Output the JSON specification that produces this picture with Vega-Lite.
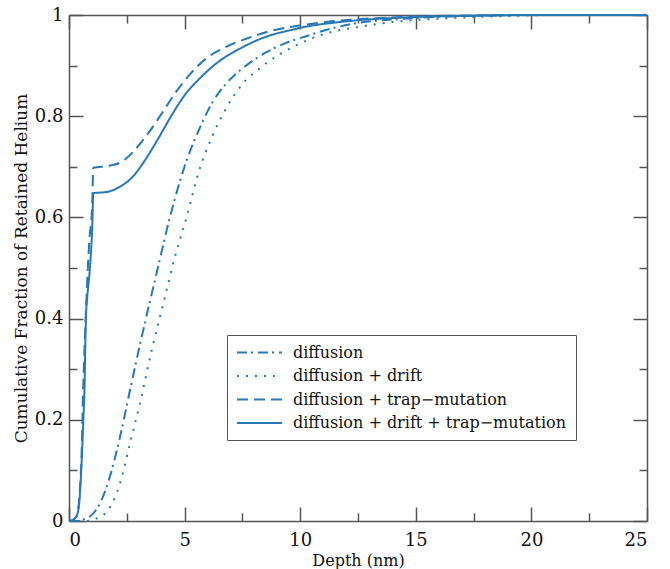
{
  "$schema": "https://vega.github.io/schema/vega-lite/v6.json",
  "width": 578,
  "height": 506,
  "autosize": {"type": "none"},
  "padding": {"left": 69, "top": 15, "right": 23, "bottom": 48},
  "background": "white",
  "config": {
    "view": {"stroke": null},
    "axis": {
      "grid": false,
      "domainColor": "#555555",
      "domainWidth": 1.5,
      "tickColor": "#555555",
      "tickWidth": 1.5,
      "labelFont": "DejaVu Serif",
      "labelFontSize": 18,
      "labelColor": "#111111",
      "titleFont": "DejaVu Serif",
      "titleFontSize": 17,
      "titleFontWeight": "normal",
      "titleColor": "#111111"
    }
  },
  "data": {
    "values": [
      {"series": "diffusion", "depth": 0, "fraction": 0},
      {"series": "diffusion", "depth": 0.3, "fraction": 0},
      {"series": "diffusion", "depth": 0.6, "fraction": 0.003},
      {"series": "diffusion", "depth": 0.9, "fraction": 0.009},
      {"series": "diffusion", "depth": 1.05, "fraction": 0.015},
      {"series": "diffusion", "depth": 1.34, "fraction": 0.035},
      {"series": "diffusion", "depth": 1.77, "fraction": 0.088},
      {"series": "diffusion", "depth": 2.21, "fraction": 0.167},
      {"series": "diffusion", "depth": 2.64, "fraction": 0.259},
      {"series": "diffusion", "depth": 3.21, "fraction": 0.377},
      {"series": "diffusion", "depth": 3.79, "fraction": 0.49},
      {"series": "diffusion", "depth": 4.37, "fraction": 0.601},
      {"series": "diffusion", "depth": 5.06, "fraction": 0.709},
      {"series": "diffusion", "depth": 5.64, "fraction": 0.775},
      {"series": "diffusion", "depth": 6.21, "fraction": 0.828},
      {"series": "diffusion", "depth": 6.79, "fraction": 0.864},
      {"series": "diffusion", "depth": 7.66, "fraction": 0.9},
      {"series": "diffusion", "depth": 8.52, "fraction": 0.926},
      {"series": "diffusion", "depth": 9.39, "fraction": 0.945},
      {"series": "diffusion", "depth": 10.25, "fraction": 0.958},
      {"series": "diffusion", "depth": 11.5, "fraction": 0.975},
      {"series": "diffusion", "depth": 12.6, "fraction": 0.985},
      {"series": "diffusion", "depth": 14, "fraction": 0.991},
      {"series": "diffusion", "depth": 15, "fraction": 0.994},
      {"series": "diffusion", "depth": 17, "fraction": 0.998},
      {"series": "diffusion", "depth": 20, "fraction": 1},
      {"series": "diffusion", "depth": 25, "fraction": 1},

      {"series": "diffusion + drift", "depth": 0, "fraction": 0},
      {"series": "diffusion + drift", "depth": 0.8, "fraction": 0},
      {"series": "diffusion + drift", "depth": 1.0, "fraction": 0.002},
      {"series": "diffusion + drift", "depth": 1.34, "fraction": 0.008},
      {"series": "diffusion + drift", "depth": 1.7, "fraction": 0.022},
      {"series": "diffusion + drift", "depth": 2.21, "fraction": 0.075},
      {"series": "diffusion + drift", "depth": 2.64, "fraction": 0.154},
      {"series": "diffusion + drift", "depth": 3.07, "fraction": 0.233},
      {"series": "diffusion + drift", "depth": 3.58, "fraction": 0.338},
      {"series": "diffusion + drift", "depth": 4.08, "fraction": 0.43},
      {"series": "diffusion + drift", "depth": 4.58, "fraction": 0.522},
      {"series": "diffusion + drift", "depth": 5.09, "fraction": 0.601},
      {"series": "diffusion + drift", "depth": 5.6, "fraction": 0.688},
      {"series": "diffusion + drift", "depth": 6.21, "fraction": 0.762},
      {"series": "diffusion + drift", "depth": 6.79, "fraction": 0.815},
      {"series": "diffusion + drift", "depth": 7.51, "fraction": 0.864},
      {"series": "diffusion + drift", "depth": 8.23, "fraction": 0.894},
      {"series": "diffusion + drift", "depth": 9.1, "fraction": 0.922},
      {"series": "diffusion + drift", "depth": 9.96, "fraction": 0.943},
      {"series": "diffusion + drift", "depth": 11, "fraction": 0.962},
      {"series": "diffusion + drift", "depth": 12.6, "fraction": 0.977},
      {"series": "diffusion + drift", "depth": 14, "fraction": 0.986},
      {"series": "diffusion + drift", "depth": 15, "fraction": 0.99},
      {"series": "diffusion + drift", "depth": 17, "fraction": 0.995},
      {"series": "diffusion + drift", "depth": 19, "fraction": 0.998},
      {"series": "diffusion + drift", "depth": 21, "fraction": 1},
      {"series": "diffusion + drift", "depth": 25, "fraction": 1},

      {"series": "diffusion + trap−mutation", "depth": 0, "fraction": 0},
      {"series": "diffusion + trap−mutation", "depth": 0.2, "fraction": 0.003},
      {"series": "diffusion + trap−mutation", "depth": 0.35, "fraction": 0.012},
      {"series": "diffusion + trap−mutation", "depth": 0.45, "fraction": 0.05},
      {"series": "diffusion + trap−mutation", "depth": 0.55, "fraction": 0.14},
      {"series": "diffusion + trap−mutation", "depth": 0.6, "fraction": 0.24},
      {"series": "diffusion + trap−mutation", "depth": 0.64, "fraction": 0.3},
      {"series": "diffusion + trap−mutation", "depth": 0.74, "fraction": 0.423},
      {"series": "diffusion + trap−mutation", "depth": 0.88, "fraction": 0.555},
      {"series": "diffusion + trap−mutation", "depth": 1.0, "fraction": 0.62},
      {"series": "diffusion + trap−mutation", "depth": 1.05, "fraction": 0.698},
      {"series": "diffusion + trap−mutation", "depth": 1.74, "fraction": 0.702},
      {"series": "diffusion + trap−mutation", "depth": 2.32, "fraction": 0.711},
      {"series": "diffusion + trap−mutation", "depth": 2.9, "fraction": 0.736},
      {"series": "diffusion + trap−mutation", "depth": 3.47, "fraction": 0.769},
      {"series": "diffusion + trap−mutation", "depth": 4.05, "fraction": 0.808},
      {"series": "diffusion + trap−mutation", "depth": 4.63, "fraction": 0.848},
      {"series": "diffusion + trap−mutation", "depth": 5.2, "fraction": 0.881},
      {"series": "diffusion + trap−mutation", "depth": 5.93, "fraction": 0.914},
      {"series": "diffusion + trap−mutation", "depth": 6.79, "fraction": 0.937},
      {"series": "diffusion + trap−mutation", "depth": 7.66, "fraction": 0.953},
      {"series": "diffusion + trap−mutation", "depth": 8.52, "fraction": 0.966},
      {"series": "diffusion + trap−mutation", "depth": 9.39, "fraction": 0.975},
      {"series": "diffusion + trap−mutation", "depth": 10.25, "fraction": 0.981},
      {"series": "diffusion + trap−mutation", "depth": 11.5, "fraction": 0.988},
      {"series": "diffusion + trap−mutation", "depth": 12.6, "fraction": 0.992},
      {"series": "diffusion + trap−mutation", "depth": 14, "fraction": 0.995},
      {"series": "diffusion + trap−mutation", "depth": 15, "fraction": 0.997},
      {"series": "diffusion + trap−mutation", "depth": 17, "fraction": 0.999},
      {"series": "diffusion + trap−mutation", "depth": 20, "fraction": 1},
      {"series": "diffusion + trap−mutation", "depth": 25, "fraction": 1},

      {"series": "diffusion + drift + trap−mutation", "depth": 0, "fraction": 0},
      {"series": "diffusion + drift + trap−mutation", "depth": 0.2, "fraction": 0.003},
      {"series": "diffusion + drift + trap−mutation", "depth": 0.35, "fraction": 0.012},
      {"series": "diffusion + drift + trap−mutation", "depth": 0.45, "fraction": 0.04},
      {"series": "diffusion + drift + trap−mutation", "depth": 0.55, "fraction": 0.12},
      {"series": "diffusion + drift + trap−mutation", "depth": 0.62, "fraction": 0.2},
      {"series": "diffusion + drift + trap−mutation", "depth": 0.68, "fraction": 0.28},
      {"series": "diffusion + drift + trap−mutation", "depth": 0.71, "fraction": 0.36},
      {"series": "diffusion + drift + trap−mutation", "depth": 0.74, "fraction": 0.41},
      {"series": "diffusion + drift + trap−mutation", "depth": 0.79, "fraction": 0.443},
      {"series": "diffusion + drift + trap−mutation", "depth": 0.91, "fraction": 0.503},
      {"series": "diffusion + drift + trap−mutation", "depth": 1.01, "fraction": 0.588},
      {"series": "diffusion + drift + trap−mutation", "depth": 1.05, "fraction": 0.648},
      {"series": "diffusion + drift + trap−mutation", "depth": 1.6, "fraction": 0.65},
      {"series": "diffusion + drift + trap−mutation", "depth": 2.18, "fraction": 0.66},
      {"series": "diffusion + drift + trap−mutation", "depth": 2.75, "fraction": 0.68},
      {"series": "diffusion + drift + trap−mutation", "depth": 3.33, "fraction": 0.716},
      {"series": "diffusion + drift + trap−mutation", "depth": 3.9, "fraction": 0.759},
      {"series": "diffusion + drift + trap−mutation", "depth": 4.48, "fraction": 0.805},
      {"series": "diffusion + drift + trap−mutation", "depth": 5.06, "fraction": 0.845},
      {"series": "diffusion + drift + trap−mutation", "depth": 5.64, "fraction": 0.874},
      {"series": "diffusion + drift + trap−mutation", "depth": 6.36, "fraction": 0.904},
      {"series": "diffusion + drift + trap−mutation", "depth": 7.37, "fraction": 0.933},
      {"series": "diffusion + drift + trap−mutation", "depth": 8.52, "fraction": 0.957},
      {"series": "diffusion + drift + trap−mutation", "depth": 9.67, "fraction": 0.971},
      {"series": "diffusion + drift + trap−mutation", "depth": 10.25, "fraction": 0.977},
      {"series": "diffusion + drift + trap−mutation", "depth": 11.5, "fraction": 0.985},
      {"series": "diffusion + drift + trap−mutation", "depth": 12.6, "fraction": 0.99},
      {"series": "diffusion + drift + trap−mutation", "depth": 14, "fraction": 0.994},
      {"series": "diffusion + drift + trap−mutation", "depth": 15, "fraction": 0.996},
      {"series": "diffusion + drift + trap−mutation", "depth": 17, "fraction": 0.998},
      {"series": "diffusion + drift + trap−mutation", "depth": 20, "fraction": 1},
      {"series": "diffusion + drift + trap−mutation", "depth": 25, "fraction": 1}
    ]
  },
  "layer": [
    {
      "mark": {"type": "line", "interpolate": "monotone", "strokeWidth": 2, "color": "#2878b8"},
      "encoding": {
        "x": {
          "field": "depth", "type": "quantitative",
          "scale": {"domain": [0, 25], "nice": false},
          "axis": {"orient": "bottom", "values": [0, 5, 10, 15, 20, 25], "format": "~g", "tickSize": -14, "labelPadding": 24, "title": "Depth (nm)", "titleFontSize": 16, "titlePadding": 3}
        },
        "y": {
          "field": "fraction", "type": "quantitative",
          "scale": {"domain": [0, 1], "nice": false},
          "axis": {"orient": "left", "values": [0, 0.2, 0.4, 0.6, 0.8, 1], "format": "~g", "tickSize": -14, "labelPadding": 20, "title": "Cumulative Fraction of Retained Helium", "titlePadding": 4}
        },
        "strokeDash": {
          "field": "series", "type": "nominal",
          "scale": {
            "domain": ["diffusion", "diffusion + drift", "diffusion + trap−mutation", "diffusion + drift + trap−mutation"],
            "range": [[10, 4, 2, 5], [2, 7], [11, 6], [1, 0]]
          },
          "legend": {
            "orient": "none", "legendX": 158, "legendY": 320,
            "title": null,
            "labelFont": "DejaVu Serif", "labelFontSize": 16, "labelColor": "#111111", "labelLimit": 400,
            "symbolType": "M-1,0H5", "symbolSize": 225, "symbolStrokeWidth": 2, "symbolStrokeColor": "#2878b8", "symbolFillColor": "transparent",
            "labelOffset": 40, "rowPadding": 6.5, "padding": 9,
            "strokeColor": "#555555", "fillColor": "white"
          }
        }
      }
    },
    {
      "mark": {"type": "point", "opacity": 0},
      "encoding": {
        "x": {"field": "depth", "type": "quantitative", "scale": {"domain": [0, 25], "nice": false},
              "axis": {"orient": "bottom", "values": [2.5, 7.5, 12.5, 17.5, 22.5], "labels": false, "domain": false, "tickSize": -8, "title": null}},
        "y": {"field": "fraction", "type": "quantitative", "scale": {"domain": [0, 1], "nice": false},
              "axis": {"orient": "left", "values": [0.1, 0.3, 0.5, 0.7, 0.9], "labels": false, "domain": false, "tickSize": -8, "title": null}}
      }
    },
    {
      "mark": {"type": "point", "opacity": 0},
      "encoding": {
        "x": {"field": "depth", "type": "quantitative", "scale": {"domain": [0, 25], "nice": false},
              "axis": {"orient": "top", "values": [0, 5, 10, 15, 20, 25], "labels": false, "tickSize": -14, "title": null}},
        "y": {"field": "fraction", "type": "quantitative", "scale": {"domain": [0, 1], "nice": false},
              "axis": {"orient": "right", "values": [0, 0.2, 0.4, 0.6, 0.8, 1], "labels": false, "tickSize": -14, "title": null}}
      }
    },
    {
      "mark": {"type": "point", "opacity": 0},
      "encoding": {
        "x": {"field": "depth", "type": "quantitative", "scale": {"domain": [0, 25], "nice": false},
              "axis": {"orient": "top", "values": [2.5, 7.5, 12.5, 17.5, 22.5], "labels": false, "domain": false, "tickSize": -8, "title": null}},
        "y": {"field": "fraction", "type": "quantitative", "scale": {"domain": [0, 1], "nice": false},
              "axis": {"orient": "right", "values": [0.1, 0.3, 0.5, 0.7, 0.9], "labels": false, "domain": false, "tickSize": -8, "title": null}}
      }
    }
  ],
  "resolve": {"axis": {"x": "independent", "y": "independent"}}
}
